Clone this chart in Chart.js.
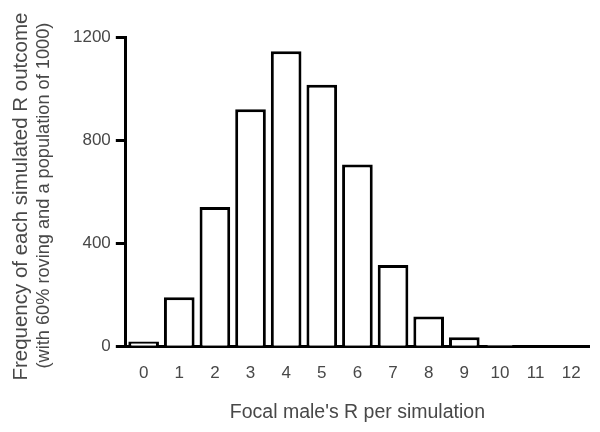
<!DOCTYPE html>
<html>
<head>
<meta charset="utf-8">
<script src="https://cdn.jsdelivr.net/npm/chart.js@4"></script>
<style>
  html, body { margin: 0; padding: 0; background: #fff; }
  #wrap { width: 600px; height: 432px; }
</style>
</head>
<body>
<div id="wrap"><canvas id="rChart" width="600" height="432"></canvas></div>
<script>
const categories = ['0', '1', '2', '3', '4', '5', '6', '7', '8', '9', '10', '11', '12'];
const frequencies = [18, 190, 540, 920, 1145, 1015, 705, 315, 115, 35, 5, 0, 0];
const yTicks = [0, 400, 800, 1200];

const yTitleLines = ['Frequency of each simulated R outcome', '(with 60% roving and a population of 1000)'];
const fontFamily = '"Liberation Sans", Arial, sans-serif';

// two-line y title, second line smaller
const yTitlePlugin = {
    id: 'yTitle',
    afterDraw(chart) {
        const ctx = chart.ctx;
        const area = chart.chartArea;
        const midY = (area.top + area.bottom) / 2 + 5;
        ctx.save();
        ctx.fillStyle = '#484848';
        ctx.textAlign = 'center';
        ctx.textBaseline = 'middle';
        ctx.translate(21, midY);
        ctx.rotate(-Math.PI / 2);
        ctx.font = '20.5px ' + fontFamily;
        ctx.fillText(yTitleLines[0], 0, 0);
        ctx.font = '18.2px ' + fontFamily;
        ctx.fillText(yTitleLines[1], 1, 23);
        ctx.restore();
    }
};

new Chart(document.getElementById('rChart'), {
    type: 'bar',
    data: {
        labels: categories,
        datasets: [{
            data: frequencies,
            backgroundColor: '#fff',
            borderColor: '#000',
            borderWidth: 3,
            borderSkipped: 'bottom',
            barPercentage: 0.86,
            categoryPercentage: 1.0
        }]
    },
    options: {
        responsive: false,
        animation: false,
        layout: { padding: { left: 68, right: 11, top: 37, bottom: 8 } },
        plugins: {
            legend: { display: false },
            tooltip: { enabled: false }
        },
        scales: {
            x: {
                offset: true,
                grid: { display: false, drawTicks: false },
                border: { display: true, color: '#000', width: 3 },
                ticks: {
                    color: '#484848',
                    padding: 17,
                    font: { family: fontFamily, size: 17 }
                },
                title: {
                    display: true,
                    text: "Focal male's R per simulation",
                    color: '#484848',
                    padding: { top: 0, bottom: 0 },
                    font: { family: fontFamily, size: 19.5 }
                }
            },
            y: {
                min: 0,
                max: 1200,
                afterBuildTicks(axis) {
                    axis.ticks = yTicks.map(v => ({ value: v }));
                },
                grid: {
                    drawOnChartArea: false,
                    drawTicks: true,
                    tickLength: 10,
                    tickWidth: 3,
                    tickColor: '#000'
                },
                border: { display: true, color: '#000', width: 3 },
                ticks: {
                    color: '#484848',
                    padding: 5,
                    font: { family: fontFamily, size: 17 },
                    callback: v => String(v)
                }
            }
        }
    },
    plugins: [yTitlePlugin]
});
</script>
</body>
</html>
